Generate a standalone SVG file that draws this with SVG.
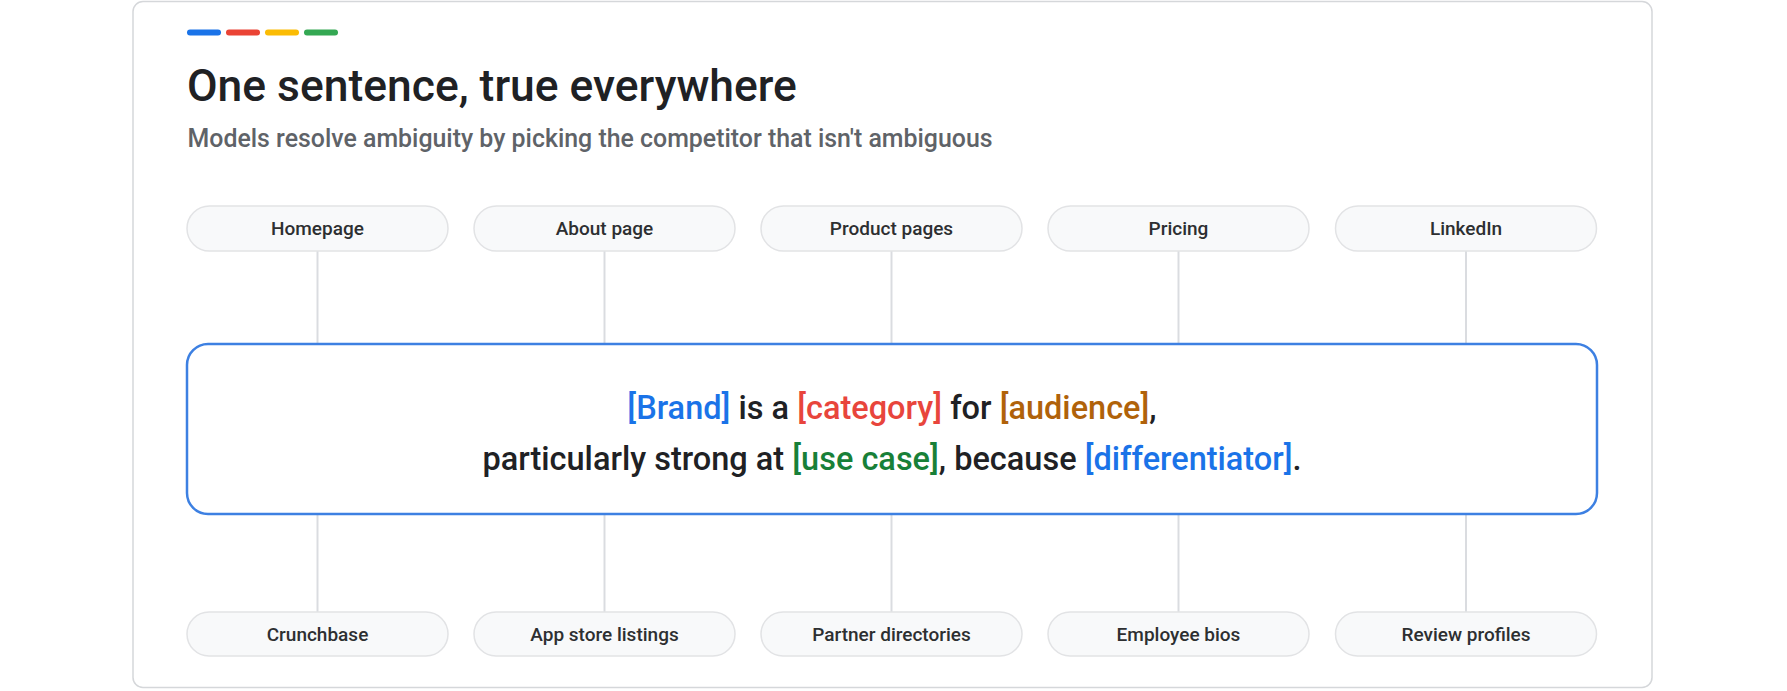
<svg xmlns="http://www.w3.org/2000/svg" width="1787" height="691" viewBox="0 0 1787 691">
<style>
.card{fill:#ffffff;stroke:#d5d7da;stroke-width:1.5}
.bar{stroke-width:6;stroke-linecap:round}
.title{font-family:Roboto,"Liberation Sans",sans-serif;font-size:44.4px;font-weight:500;fill:#202124}
.sub{font-family:Roboto,"Liberation Sans",sans-serif;font-size:24.9px;font-weight:500;fill:#5f6368}
.pill{fill:#f8f9fa;stroke:#e2e3e5;stroke-width:1.5}
.pt{font-family:Roboto,"Liberation Sans",sans-serif;font-size:19px;font-weight:500;fill:#2d2f31;text-anchor:middle}
.conn{stroke:#dadce0;stroke-width:2;fill:none}
.core{fill:#ffffff;stroke:#3d80e2;stroke-width:2.5}
.st{font-family:Roboto,"Liberation Sans",sans-serif;font-size:32.5px;font-weight:500;fill:#202124;text-anchor:middle}
.b{fill:#1a73e8}.r{fill:#e8453c}.o{fill:#b0620a}.g{fill:#188038}
</style>
<rect class="card" x="133" y="1.5" width="1519" height="686" rx="10"/>
<g id="accent">
<line class="bar" x1="190" y1="32.5" x2="218" y2="32.5" stroke="#1a73e8"/>
<line class="bar" x1="229" y1="32.5" x2="257" y2="32.5" stroke="#ea4335"/>
<line class="bar" x1="268" y1="32.5" x2="296" y2="32.5" stroke="#fbbc04"/>
<line class="bar" x1="307" y1="32.5" x2="335" y2="32.5" stroke="#34a853"/>
</g>
<text class="title" x="187" y="101">One sentence, true everywhere</text>
<text class="sub" x="187.5" y="146.5">Models resolve ambiguity by picking the competitor that isn't ambiguous</text>
<g id="connectors">
<line class="conn" x1="317.5" y1="251" x2="317.5" y2="344"/>
<line class="conn" x1="604.5" y1="251" x2="604.5" y2="344"/>
<line class="conn" x1="891.5" y1="251" x2="891.5" y2="344"/>
<line class="conn" x1="1178.5" y1="251" x2="1178.5" y2="344"/>
<line class="conn" x1="1466" y1="251" x2="1466" y2="344"/>
<line class="conn" x1="317.5" y1="514" x2="317.5" y2="612"/>
<line class="conn" x1="604.5" y1="514" x2="604.5" y2="612"/>
<line class="conn" x1="891.5" y1="514" x2="891.5" y2="612"/>
<line class="conn" x1="1178.5" y1="514" x2="1178.5" y2="612"/>
<line class="conn" x1="1466" y1="514" x2="1466" y2="612"/>
</g>
<g id="n-homepage"><rect class="pill" x="187" y="206" width="261" height="45" rx="22.5"/><text class="pt" x="317.5" y="235">Homepage</text></g>
<g id="n-about"><rect class="pill" x="474" y="206" width="261" height="45" rx="22.5"/><text class="pt" x="604.5" y="235">About page</text></g>
<g id="n-product"><rect class="pill" x="761" y="206" width="261" height="45" rx="22.5"/><text class="pt" x="891.5" y="235">Product pages</text></g>
<g id="n-pricing"><rect class="pill" x="1048" y="206" width="261" height="45" rx="22.5"/><text class="pt" x="1178.5" y="235">Pricing</text></g>
<g id="n-linkedin"><rect class="pill" x="1335.5" y="206" width="261" height="45" rx="22.5"/><text class="pt" x="1466" y="235">LinkedIn</text></g>
<g id="n-core">
<rect class="core" x="187" y="344" width="1410" height="170" rx="21"/>
<text class="st" x="892" y="419"><tspan class="b">[Brand]</tspan> is a <tspan class="r">[category]</tspan> for <tspan class="o">[audience]</tspan>,</text>
<text class="st" x="892" y="470">particularly strong at <tspan class="g">[use case]</tspan>, because <tspan class="b">[differentiator]</tspan>.</text>
</g>
<g id="n-crunchbase"><rect class="pill" x="187" y="612" width="261" height="44" rx="22"/><text class="pt" x="317.5" y="641">Crunchbase</text></g>
<g id="n-appstore"><rect class="pill" x="474" y="612" width="261" height="44" rx="22"/><text class="pt" x="604.5" y="641">App store listings</text></g>
<g id="n-partner"><rect class="pill" x="761" y="612" width="261" height="44" rx="22"/><text class="pt" x="891.5" y="641">Partner directories</text></g>
<g id="n-employee"><rect class="pill" x="1048" y="612" width="261" height="44" rx="22"/><text class="pt" x="1178.5" y="641">Employee bios</text></g>
<g id="n-review"><rect class="pill" x="1335.5" y="612" width="261" height="44" rx="22"/><text class="pt" x="1466" y="641">Review profiles</text></g>
</svg>
